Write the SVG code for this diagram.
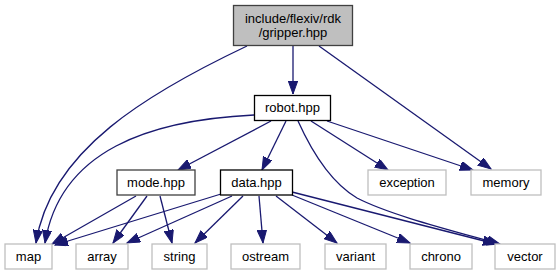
<svg xmlns="http://www.w3.org/2000/svg" width="559" height="276" viewBox="0 0 559 276">
<style>
text{font-family:"Liberation Sans",Arial,sans-serif;font-size:13px;fill:#000;text-anchor:middle}
.main{fill:#bfbfbf;stroke:#404040;stroke-width:1.3}
.inner{fill:#fff;stroke:#000;stroke-width:1.3}
.innerg{fill:#fff;stroke:#404040;stroke-width:1.3}
.leaf{fill:#fff;stroke:#bfbfbf;stroke-width:1.3}
.e{fill:none;stroke:#191970;stroke-width:1.3;marker-end:url(#ah)}
</style>
<defs>
<marker id="ah" markerUnits="userSpaceOnUse" markerWidth="14" markerHeight="10" refX="13" refY="4.7" orient="auto">
<path d="M0,0 L13,4.7 L0,9.4 z" fill="#191970" stroke="#191970" stroke-width="1"/>
</marker>
</defs>
<g id="edges">
<path class="e" d="M247,46 C150,92 50,150 36,243"/>
<path class="e" d="M293,46 L293,94"/>
<path class="e" d="M319,46 L491,169"/>
<path class="e" d="M254,115 C150,120 60,150 45,243"/>
<path class="e" d="M271,121 L178,170"/>
<path class="e" d="M286,121 L262,170"/>
<path class="e" d="M311,121 L388,170"/>
<path class="e" d="M327,121 L473,170"/>
<path class="e" d="M298,121 C312,152 330,182 357,198 C390,215 450,230 500,244"/>
<path class="e" d="M136,196 L52,244"/>
<path class="e" d="M147,196 L113,243"/>
<path class="e" d="M160,196 L172,243"/>
<path class="e" d="M221,194 L55,245"/>
<path class="e" d="M232,196 L127,243"/>
<path class="e" d="M243,196 L195,243"/>
<path class="e" d="M259,196 L263,243"/>
<path class="e" d="M276,196 L337,243"/>
<path class="e" d="M292,195 L410,243"/>
<path class="e" d="M292,192 L496,244"/>
</g>
<g id="gripper"><rect class="main" x="233.5" y="5.5" width="119" height="40"/><text x="293" y="22.5">include/flexiv/rdk</text><text x="293" y="36.5">/gripper.hpp</text></g>
<g id="robot"><rect class="inner" x="254.5" y="95.5" width="76" height="25"/><text x="292.5" y="112">robot.hpp</text></g>
<g id="mode"><rect class="innerg" x="117" y="170" width="78" height="25"/><text x="156" y="187">mode.hpp</text></g>
<g id="data"><rect class="inner" x="220.5" y="170" width="72" height="25"/><text x="256.5" y="187">data.hpp</text></g>
<g id="exception"><rect class="leaf" x="368" y="170" width="78" height="25"/><text x="407" y="187">exception</text></g>
<g id="memory"><rect class="leaf" x="471" y="170" width="70" height="25"/><text x="506" y="187">memory</text></g>
<g id="map"><rect class="leaf" x="5" y="244" width="47" height="25"/><text x="28.5" y="261">map</text></g>
<g id="array"><rect class="leaf" x="76" y="244" width="52" height="25"/><text x="102" y="261">array</text></g>
<g id="string"><rect class="leaf" x="152" y="244" width="55" height="25"/><text x="179.5" y="261">string</text></g>
<g id="ostream"><rect class="leaf" x="231" y="244" width="69" height="25"/><text x="265.5" y="261">ostream</text></g>
<g id="variant"><rect class="leaf" x="325" y="244" width="61" height="25"/><text x="355.5" y="261">variant</text></g>
<g id="chrono"><rect class="leaf" x="410" y="244" width="62" height="25"/><text x="441" y="261">chrono</text></g>
<g id="vector"><rect class="leaf" x="495" y="244" width="60" height="25"/><text x="525" y="261">vector</text></g>
</svg>
